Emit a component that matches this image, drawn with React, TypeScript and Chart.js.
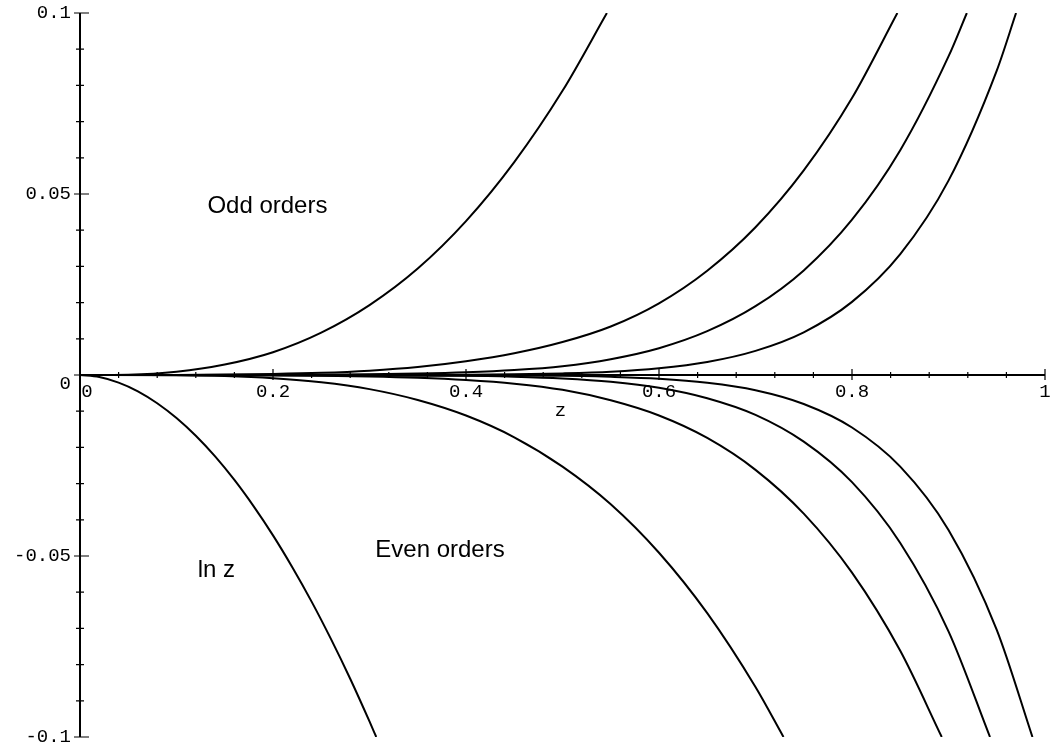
import { useEffect, useRef } from "react";
import { Chart, registerables } from "chart.js";

Chart.register(...registerables);

// Axis ranges and tick labels
const xRange = [0, 1];
const yRange = [-0.1, 0.1];
const xTickValues = [0, 0.2, 0.4, 0.6, 0.8, 1];
const xTickLabels = ["0", "0.2", "0.4", "0.6", "0.8", "1"];
const yTickValues = [0.1, 0.05, 0, -0.05, -0.1];
const yTickLabels = ["0.1", "0.05", "0", "-0.05", "-0.1"];
const xMinorStep = 0.04;
const yMinorStep = 0.01;

// Odd-order curves (above the axis)
const odd1X = [0, 0.05, 0.1, 0.15, 0.2, 0.25, 0.3, 0.35, 0.4, 0.45, 0.5, 0.546];
const odd1Y = [0, 0.0001, 0.0009, 0.0029, 0.0063, 0.0117, 0.0193, 0.0294, 0.0425, 0.0588, 0.0785, 0.1];
const odd2X = [0, 0.1, 0.2, 0.25, 0.3, 0.35, 0.4, 0.45, 0.5, 0.55, 0.6, 0.65, 0.7, 0.75, 0.8, 0.847];
const odd2Y = [0, 0.00003, 0.0003, 0.0006, 0.0012, 0.0022, 0.0038, 0.006, 0.0091, 0.0134, 0.0198, 0.0288, 0.0408, 0.0565, 0.0765, 0.1];
const odd3X = [0, 0.2, 0.25, 0.3, 0.35, 0.4, 0.45, 0.5, 0.55, 0.6, 0.65, 0.7, 0.75, 0.8, 0.85, 0.9, 0.919];
const odd3Y = [0, 0.00003, 0.00008, 0.00018, 0.00038, 0.00074, 0.00137, 0.00244, 0.00437, 0.0074, 0.0121, 0.019, 0.0289, 0.0429, 0.0621, 0.088, 0.1];
const odd4X = [0, 0.4, 0.45, 0.5, 0.55, 0.6, 0.65, 0.7, 0.75, 0.8, 0.85, 0.9, 0.95, 0.97];
const odd4Y = [0, 0.0001, 0.00021, 0.00044, 0.0009, 0.00186, 0.0036, 0.00667, 0.0118, 0.0202, 0.0334, 0.0537, 0.0841, 0.1];

// ln z curve
const lnX = [0, 0.02, 0.04, 0.06, 0.08, 0.1, 0.12, 0.14, 0.16, 0.18, 0.2, 0.22, 0.24, 0.26, 0.28, 0.3, 0.307];
const lnY = [0, -0.00056, -0.0021, -0.0045, -0.0078, -0.0119, -0.0168, -0.0225, -0.029, -0.0363, -0.0443, -0.0531, -0.0626, -0.0729, -0.0839, -0.0957, -0.1];

// Even-order curves (below the axis)
const even1X = [0, 0.1, 0.15, 0.2, 0.25, 0.3, 0.35, 0.4, 0.45, 0.5, 0.55, 0.6, 0.65, 0.7, 0.729];
const even1Y = [0, -0.00007, -0.0003, -0.00089, -0.002, -0.0039, -0.0069, -0.0112, -0.0172, -0.0253, -0.0357, -0.0491, -0.0658, -0.0862, -0.1];
const even2X = [0, 0.2, 0.25, 0.3, 0.35, 0.4, 0.45, 0.5, 0.55, 0.6, 0.65, 0.7, 0.75, 0.8, 0.85, 0.893];
const even2Y = [0, -0.00008, -0.00018, -0.00038, -0.00075, -0.00138, -0.0024, -0.0041, -0.007, -0.0112, -0.0174, -0.0262, -0.0383, -0.0546, -0.0762, -0.1];
const even3X = [0, 0.4, 0.45, 0.5, 0.55, 0.6, 0.65, 0.7, 0.75, 0.8, 0.85, 0.9, 0.943];
const even3Y = [0, -0.0002, -0.00046, -0.00095, -0.00185, -0.0035, -0.0064, -0.011, -0.0184, -0.0296, -0.0464, -0.0708, -0.1];
const even4X = [0, 0.5, 0.55, 0.6, 0.65, 0.7, 0.75, 0.8, 0.85, 0.9, 0.95, 0.987];
const even4Y = [0, -0.00022, -0.0005, -0.00103, -0.00214, -0.0042, -0.008, -0.0145, -0.0253, -0.0428, -0.0704, -0.1];

const curves = [
  [odd1X, odd1Y], [odd2X, odd2Y], [odd3X, odd3Y], [odd4X, odd4Y],
  [lnX, lnY],
  [even1X, even1Y], [even2X, even2Y], [even3X, even3Y], [even4X, even4Y],
];

// Text annotations: [text, x, baseline y] in data units
const notes: [string, number, number][] = [
  ["Odd orders", 0.132, 0.0447],
  ["Even orders", 0.306, -0.0503],
  ["ln z", 0.122, -0.0558],
];
const axisTitle = "z";
const axisTitlePos = [0.498, -0.0098];

const MONO = '19px "Liberation Mono", "Courier New", monospace';
const SANS = '24px "Liberation Sans", Arial, Helvetica, sans-serif';

const axesPlugin = {
  id: "crossAxes",
  afterDatasetsDraw(chart: any) {
    const { ctx } = chart;
    const xs = chart.scales.x;
    const ys = chart.scales.y;
    const px = (v: number) => xs.getPixelForValue(v);
    const py = (v: number) => ys.getPixelForValue(v);
    const x0 = px(0);
    const y0 = py(0);
    ctx.save();
    ctx.strokeStyle = "#000";
    ctx.fillStyle = "#000";
    ctx.lineWidth = 2;
    ctx.beginPath();
    ctx.moveTo(x0, py(yRange[0]));
    ctx.lineTo(x0, py(yRange[1]));
    ctx.moveTo(px(xRange[0]), y0);
    ctx.lineTo(px(xRange[1]), y0);
    ctx.stroke();

    ctx.lineWidth = 1.2;
    ctx.beginPath();
    const nx = Math.round((xRange[1] - xRange[0]) / xMinorStep);
    for (let i = 0; i <= nx; i++) {
      const v = xRange[0] + i * xMinorStep;
      const major = xTickValues.some((t) => Math.abs(t - v) < 1e-9);
      const p = px(v);
      ctx.moveTo(p, y0 - (major ? 6 : 3));
      ctx.lineTo(p, y0 + (major ? 5 : 3));
    }
    const ny = Math.round((yRange[1] - yRange[0]) / yMinorStep);
    for (let i = 0; i <= ny; i++) {
      const v = yRange[0] + i * yMinorStep;
      const major = yTickValues.some((t) => Math.abs(t - v) < 1e-9);
      const p = py(v);
      ctx.moveTo(x0 - (major ? 6 : 4), p);
      ctx.lineTo(x0 + (major ? 9 : 4), p);
    }
    ctx.stroke();

    ctx.font = MONO;
    ctx.textBaseline = "top";
    ctx.textAlign = "center";
    xTickLabels.forEach((lab, i) => {
      const v = xTickValues[i];
      const p = v === 0 ? x0 + 7 : px(v);
      ctx.fillText(lab, p, y0 + 7);
    });
    ctx.textAlign = "right";
    ctx.textBaseline = "middle";
    yTickLabels.forEach((lab, i) => {
      const v = yTickValues[i];
      const p = v === 0 ? y0 + 9 : py(v);
      ctx.fillText(lab, x0 - 9, p);
    });
    ctx.textAlign = "center";
    ctx.fillText(axisTitle, px(axisTitlePos[0]), py(axisTitlePos[1]));

    ctx.font = SANS;
    ctx.textAlign = "left";
    ctx.textBaseline = "alphabetic";
    notes.forEach(([t, x, y]) => ctx.fillText(t, px(x), py(y)));
    ctx.restore();
  },
};

export default function App() {
  const ref = useRef<HTMLCanvasElement | null>(null);
  useEffect(() => {
    document.body.style.margin = "0";
    const canvas = ref.current;
    if (!canvas) return;
    const chart = new Chart(canvas, {
      type: "scatter",
      data: {
        datasets: curves.map(([xs, ys]) => ({
          data: xs.map((x, i) => ({ x, y: ys[i] })),
          showLine: true,
          borderColor: "#000",
          borderWidth: 2,
          pointRadius: 0,
          fill: false,
          tension: 0.4,
          cubicInterpolationMode: "monotone" as const,
        })),
      },
      options: {
        animation: false,
        responsive: false,
        devicePixelRatio: 1,
        layout: { padding: { left: 80, right: 9, top: 13, bottom: 9 } },
        plugins: { legend: { display: false }, tooltip: { enabled: false } },
        events: [],
        scales: {
          x: { type: "linear", min: xRange[0], max: xRange[1], display: false },
          y: { type: "linear", min: yRange[0], max: yRange[1], display: false },
        },
      },
      plugins: [axesPlugin],
    });
    return () => chart.destroy();
  }, []);
  return (
    <div style={{ position: "fixed", left: 0, top: 0, width: 1054, height: 746, background: "#fff" }}>
      <canvas ref={ref} width={1054} height={746} />
    </div>
  );
}
